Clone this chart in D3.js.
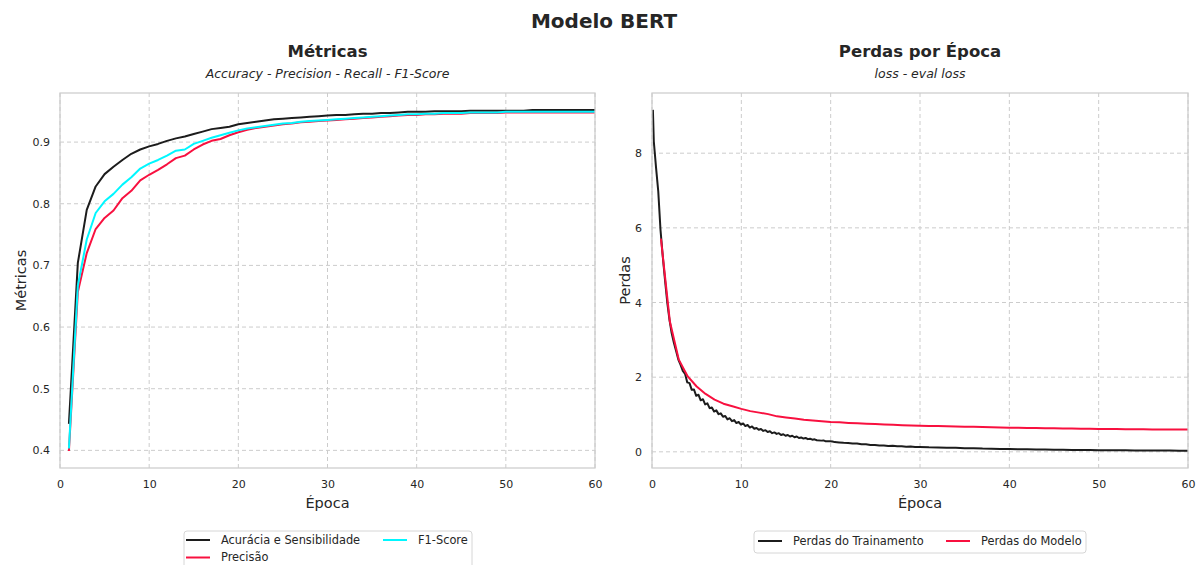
<!DOCTYPE html>
<html>
<head>
<meta charset="utf-8">
<script src="https://cdn.jsdelivr.net/npm/d3@7"></script>
<style>
  html, body { margin: 0; padding: 0; background: #ffffff; }
  svg { display: block; font-family: "DejaVu Sans", sans-serif; }
</style>
</head>
<body>
<svg id="chart" width="1199" height="565"></svg>
<script>
// ---- Metrics per epoch (epochs 1..60) ----
const epochs = d3.range(1, 61);

const accuracy = [
  0.443, 0.704, 0.790, 0.828, 0.848, 0.860, 0.871, 0.881, 0.888, 0.893,
  0.897, 0.902, 0.906, 0.909, 0.913, 0.917, 0.921, 0.923, 0.925, 0.929,
  0.931, 0.933, 0.935, 0.937, 0.938, 0.939, 0.940, 0.941, 0.942, 0.943,
  0.944, 0.944, 0.945, 0.946, 0.946, 0.947, 0.947, 0.948, 0.949, 0.949,
  0.949, 0.950, 0.950, 0.950, 0.950, 0.951, 0.951, 0.951, 0.951, 0.951,
  0.951, 0.951, 0.952, 0.952, 0.952, 0.952, 0.952, 0.952, 0.952, 0.952
];

const precision = [
  0.399, 0.657, 0.720, 0.759, 0.777, 0.789, 0.809, 0.821, 0.838, 0.847,
  0.855, 0.864, 0.874, 0.878, 0.888, 0.896, 0.902, 0.905, 0.911, 0.916,
  0.920, 0.923, 0.925, 0.927, 0.929, 0.930, 0.932, 0.933, 0.934, 0.935,
  0.936, 0.937, 0.938, 0.939, 0.940, 0.941, 0.942, 0.943, 0.944, 0.944,
  0.945, 0.945, 0.946, 0.946, 0.946, 0.947, 0.947, 0.947, 0.947, 0.948,
  0.948, 0.948, 0.948, 0.948, 0.948, 0.948, 0.948, 0.948, 0.948, 0.948
];

const f1score = [
  0.403, 0.667, 0.742, 0.785, 0.804, 0.816, 0.831, 0.843, 0.857, 0.865,
  0.871, 0.878, 0.886, 0.888, 0.897, 0.902, 0.907, 0.911, 0.915, 0.919,
  0.922, 0.924, 0.926, 0.928, 0.930, 0.931, 0.933, 0.934, 0.935, 0.936,
  0.937, 0.938, 0.939, 0.940, 0.941, 0.942, 0.943, 0.944, 0.945, 0.945,
  0.946, 0.946, 0.947, 0.947, 0.947, 0.948, 0.948, 0.948, 0.948, 0.949,
  0.949, 0.949, 0.949, 0.949, 0.949, 0.949, 0.949, 0.949, 0.949, 0.949
];

// ---- Losses ----
// evaluation loss, one value per epoch (1..60)
const evalLoss = [
  5.71, 3.49, 2.47, 2.02, 1.75, 1.55, 1.40, 1.29, 1.22, 1.15,
  1.09, 1.05, 1.01, 0.95, 0.92, 0.89, 0.86, 0.84, 0.82, 0.80,
  0.79, 0.775, 0.765, 0.755, 0.745, 0.735, 0.725, 0.715, 0.708, 0.700,
  0.695, 0.690, 0.684, 0.679, 0.674, 0.669, 0.664, 0.659, 0.654, 0.648,
  0.644, 0.640, 0.636, 0.632, 0.629, 0.626, 0.623, 0.620, 0.617, 0.614,
  0.611, 0.609, 0.607, 0.605, 0.603, 0.601, 0.600, 0.598, 0.597, 0.596
];

// training loss as logged during training: [epoch, loss]
const trainLog = [
  [0.10, 9.16], [0.20, 8.32], [0.45, 7.62], [0.70, 6.98], [0.95, 5.95],
  [1.20, 5.25], [1.45, 4.62], [1.70, 4.02], [1.95, 3.55], [2.20, 3.18],
  [2.45, 2.92], [2.70, 2.70], [2.95, 2.47], [3.20, 2.33], [3.45, 2.17],
  [3.70, 2.09], [3.95, 1.86], [4.20, 1.84], [4.45, 1.66], [4.70, 1.67],
  [4.95, 1.50], [5.20, 1.53], [5.45, 1.38], [5.70, 1.41], [5.95, 1.27],
  [6.20, 1.30], [6.45, 1.17], [6.70, 1.19], [6.95, 1.08], [7.20, 1.11],
  [7.45, 1.01], [7.70, 1.03], [7.95, 0.94], [8.20, 0.96], [8.45, 0.87],
  [8.70, 0.90], [8.95, 0.82], [9.20, 0.85], [9.45, 0.77], [9.70, 0.80],
  [9.95, 0.73], [10.20, 0.76], [10.45, 0.69], [10.70, 0.72], [10.95, 0.65],
  [11.20, 0.68], [11.45, 0.62], [11.70, 0.64], [11.95, 0.59], [12.20, 0.61],
  [12.45, 0.56], [12.70, 0.58], [12.95, 0.53], [13.20, 0.55], [13.45, 0.50],
  [13.70, 0.52], [13.95, 0.48], [14.20, 0.50], [14.45, 0.45], [14.70, 0.47],
  [14.95, 0.43], [15.20, 0.45], [15.45, 0.41], [15.70, 0.43], [15.95, 0.39],
  [16.20, 0.41], [16.45, 0.37], [16.70, 0.385], [16.95, 0.355], [17.20, 0.37],
  [17.45, 0.34], [17.70, 0.35], [17.95, 0.325], [18.20, 0.335], [18.45, 0.31],
  [18.95, 0.30], [19.20, 0.305], [19.45, 0.28], [19.95, 0.28], [20.20, 0.275],
  [20.45, 0.26], [20.95, 0.25], [21.45, 0.24], [21.95, 0.235], [22.45, 0.22],
  [22.95, 0.22], [23.45, 0.20], [23.95, 0.20], [24.45, 0.185], [24.95, 0.185],
  [25.45, 0.17], [25.95, 0.172], [26.45, 0.158], [26.95, 0.16], [27.45, 0.147],
  [27.95, 0.15], [28.45, 0.138], [28.95, 0.14], [29.45, 0.13], [29.95, 0.13],
  [31.0, 0.12], [32.0, 0.118], [33.0, 0.108], [34.0, 0.106], [35.0, 0.097],
  [36.0, 0.095], [37.0, 0.087], [38.0, 0.085], [39.0, 0.078], [40.0, 0.076],
  [41.0, 0.070], [42.0, 0.068], [43.0, 0.063], [44.0, 0.061], [45.0, 0.057],
  [46.0, 0.055], [47.0, 0.051], [48.0, 0.050], [49.0, 0.046], [50.0, 0.045],
  [51.0, 0.042], [52.0, 0.041], [53.0, 0.039], [54.0, 0.038], [55.0, 0.036],
  [56.0, 0.035], [57.0, 0.034], [58.0, 0.033], [59.0, 0.032], [60.0, 0.031]
];

// ---- Tick labels ----
const xTicks = [0, 10, 20, 30, 40, 50, 60];
const metricTicks = [0.4, 0.5, 0.6, 0.7, 0.8, 0.9];
const lossTicks = [0, 2, 4, 6, 8];

// ---- Colours ----
const BLACK = "#1c1c1c";
const RED = "#f8103f";
const CYAN = "#00f7ff";
const GRID = "#cccccc";
const TEXT = "#262626";

const svg = d3.select("#chart");

// Figure title
svg.append("text")
  .attr("x", 604).attr("y", 28)
  .attr("text-anchor", "middle")
  .attr("font-size", 20).attr("font-weight", "bold")
  .attr("fill", TEXT)
  .text("Modelo BERT");

function drawPanel(opts) {
  const { left, right, top, bottom, xDomain, yDomain, yTicks, yFmt,
          title, subtitle, yLabel, yLabelOffset, series, legend } = opts;

  const x = d3.scaleLinear().domain(xDomain).range([left, right]);
  const y = d3.scaleLinear().domain(yDomain).range([bottom, top]);

  const g = svg.append("g");

  // grid
  g.append("g").selectAll("line").data(xTicks).join("line")
    .attr("x1", d => x(d)).attr("x2", d => x(d))
    .attr("y1", top).attr("y2", bottom)
    .attr("stroke", GRID).attr("stroke-width", 1)
    .attr("stroke-dasharray", "4,3");
  g.append("g").selectAll("line").data(yTicks).join("line")
    .attr("x1", left).attr("x2", right)
    .attr("y1", d => y(d)).attr("y2", d => y(d))
    .attr("stroke", GRID).attr("stroke-width", 1)
    .attr("stroke-dasharray", "4,3");

  // axes (labels only, no tick marks)
  const xAxis = g.append("g")
    .attr("transform", `translate(0,${bottom})`)
    .call(d3.axisBottom(x).tickValues(xTicks).tickSize(0).tickPadding(12).tickFormat(d3.format("d")));
  const yAxis = g.append("g")
    .attr("transform", `translate(${left},0)`)
    .call(d3.axisLeft(y).tickValues(yTicks).tickSize(0).tickPadding(10).tickFormat(yFmt));
  [xAxis, yAxis].forEach(a => {
    a.select(".domain").remove();
    a.selectAll("text")
      .attr("font-family", "DejaVu Sans, sans-serif")
      .attr("font-size", 11).attr("fill", TEXT);
  });

  // series
  const clipId = "clip-" + left;
  svg.append("clipPath").attr("id", clipId)
    .append("rect").attr("x", left).attr("y", top)
    .attr("width", right - left).attr("height", bottom - top);
  const lines = g.append("g").attr("clip-path", `url(#${clipId})`);
  series.forEach(s => {
    lines.append("path")
      .datum(s.points)
      .attr("fill", "none")
      .attr("stroke", s.color)
      .attr("stroke-width", 2)
      .attr("stroke-linejoin", "round")
      .attr("d", d3.line().x(d => x(d[0])).y(d => y(d[1])));
  });

  // frame
  g.append("rect")
    .attr("x", left).attr("y", top)
    .attr("width", right - left).attr("height", bottom - top)
    .attr("fill", "none").attr("stroke", GRID).attr("stroke-width", 1.25);

  const cx = (left + right) / 2;
  g.append("text").attr("x", cx).attr("y", 57)
    .attr("text-anchor", "middle").attr("font-size", 16.5)
    .attr("font-weight", "bold").attr("fill", TEXT).text(title);
  g.append("text").attr("x", cx).attr("y", 78)
    .attr("text-anchor", "middle").attr("font-size", 12.5)
    .attr("font-style", "italic").attr("fill", TEXT).text(subtitle);

  g.append("text").attr("x", cx).attr("y", 508)
    .attr("text-anchor", "middle").attr("font-size", 14.5)
    .attr("fill", TEXT).text("Época");
  g.append("text")
    .attr("transform", `translate(${left - yLabelOffset},${(top + bottom) / 2}) rotate(-90)`)
    .attr("text-anchor", "middle").attr("font-size", 14.5)
    .attr("fill", TEXT).text(yLabel);

  // legend
  const lg = g.append("g");
  lg.append("rect")
    .attr("x", legend.x).attr("y", legend.y)
    .attr("width", legend.w).attr("height", legend.h)
    .attr("rx", 3).attr("fill", "#ffffff").attr("fill-opacity", 0.8)
    .attr("stroke", "#d6d6d6").attr("stroke-width", 1);
  legend.items.forEach(it => {
    lg.append("line")
      .attr("x1", it.x).attr("x2", it.x + 24)
      .attr("y1", it.y).attr("y2", it.y)
      .attr("stroke", it.color).attr("stroke-width", 2);
    lg.append("text")
      .attr("x", it.x + 35).attr("y", it.y)
      .attr("dy", "0.35em").attr("font-size", 11.4)
      .attr("fill", TEXT).text(it.label);
  });
}

// Left panel: metrics
drawPanel({
  left: 60, right: 595, top: 93, bottom: 468,
  xDomain: [0, 60], yDomain: [0.3714, 0.9796],
  yTicks: metricTicks, yFmt: d3.format(".1f"),
  title: "Métricas",
  subtitle: "Accuracy - Precision - Recall - F1-Score",
  yLabel: "Métricas", yLabelOffset: 34,
  series: [
    { color: BLACK, points: epochs.map((e, i) => [e, accuracy[i]]) },
    { color: RED,   points: epochs.map((e, i) => [e, precision[i]]) },
    { color: CYAN,  points: epochs.map((e, i) => [e, f1score[i]]) }
  ],
  legend: {
    x: 184, y: 531, w: 288, h: 40,
    items: [
      { x: 186, y: 540, color: BLACK, label: "Acurácia e Sensibilidade" },
      { x: 186, y: 557.5, color: RED, label: "Precisão" },
      { x: 383, y: 540, color: CYAN, label: "F1-Score" }
    ]
  }
});

// Right panel: losses
drawPanel({
  left: 652, right: 1188, top: 93, bottom: 468,
  xDomain: [0, 60], yDomain: [-0.4334, 9.6124],
  yTicks: lossTicks, yFmt: d3.format("d"),
  title: "Perdas por Época",
  subtitle: "loss - eval loss",
  yLabel: "Perdas", yLabelOffset: 22,
  series: [
    { color: BLACK, points: trainLog },
    { color: RED,   points: epochs.map((e, i) => [e, evalLoss[i]]) }
  ],
  legend: {
    x: 754, y: 531, w: 332, h: 22,
    items: [
      { x: 758, y: 541, color: BLACK, label: "Perdas do Trainamento" },
      { x: 946, y: 541, color: RED, label: "Perdas do Modelo" }
    ]
  }
});
</script>
</body>
</html>
